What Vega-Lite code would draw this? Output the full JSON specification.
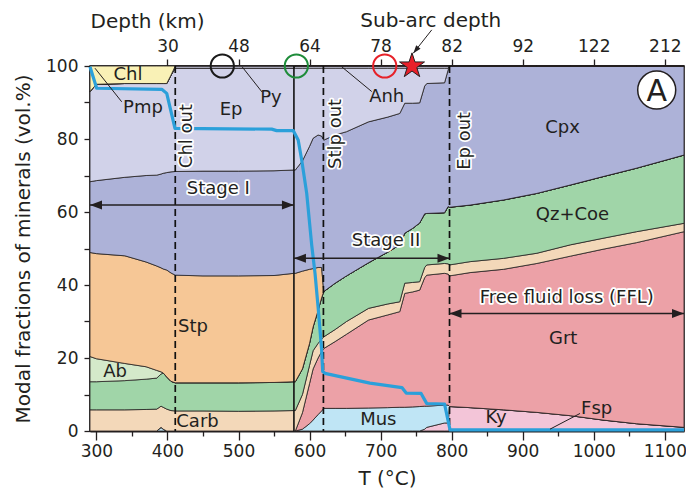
{
  "$schema": "https://vega.github.io/schema/vega-lite/v6.json",
  "width": 594,
  "height": 365,
  "autosize": {"type": "none"},
  "padding": {"left": 90, "top": 66, "right": 2, "bottom": 62},
  "config": {
    "font": "DejaVu Sans",
    "view": {"stroke": "#231f20", "strokeWidth": 1.5},
    "axis": {"domainColor": "#231f20", "tickColor": "#231f20", "labelColor": "#231f20", "titleColor": "#231f20", "labelFont": "DejaVu Sans", "titleFont": "DejaVu Sans", "labelFontSize": 17, "titleFontSize": 20, "titleFontWeight": "normal", "grid": false, "domainWidth": 2, "tickWidth": 1.3}
  },
  "datasets": {
    "rock": [
      {"T":291,"Ky":0,"Mus":0,"Grt":0,"Carb":5.8,"Qz_Coe":7.7,"Ab":6.9,"Stp":28.5,"Cpx":19.4,"Ep":24.7,"Anh":0,"Py":0,"Chl":7},
      {"T":300,"Ky":0,"Mus":0,"Grt":0,"Carb":5.8,"Qz_Coe":7.7,"Ab":6.3,"Stp":28.8,"Cpx":20,"Ep":26.4,"Anh":0,"Py":0,"Chl":5},
      {"T":340,"Ky":0,"Mus":0,"Grt":0,"Carb":5.8,"Qz_Coe":8,"Ab":4.7,"Stp":29.5,"Cpx":21.5,"Ep":25.7,"Anh":0,"Py":0,"Chl":4.8},
      {"T":370,"Ky":0,"Mus":0,"Grt":0,"Carb":5.9,"Qz_Coe":8.3,"Ab":3.4,"Stp":28.7,"Cpx":23.7,"Ep":25.2,"Anh":0,"Py":0,"Chl":4.8},
      {"T":385,"Ky":0,"Mus":0,"Grt":0,"Carb":6,"Qz_Coe":8.5,"Ab":2.1,"Stp":28.6,"Cpx":24.9,"Ep":25.1,"Anh":0,"Py":0,"Chl":4.8},
      {"T":391,"Ky":0,"Mus":1,"Grt":0,"Carb":5.8,"Qz_Coe":8.8,"Ab":0.6,"Stp":28.5,"Cpx":25.7,"Ep":24.8,"Anh":0,"Py":0,"Chl":4.8},
      {"T":394,"Ky":0,"Mus":0.5,"Grt":0,"Carb":6,"Qz_Coe":9.4,"Ab":0,"Stp":28.5,"Cpx":26.2,"Ep":24.6,"Anh":0,"Py":0,"Chl":4.8},
      {"T":399,"Ky":0,"Mus":0,"Grt":0,"Carb":6,"Qz_Coe":8.8,"Ab":0,"Stp":29.3,"Cpx":26.7,"Ep":24.4,"Anh":0,"Py":0,"Chl":4.8},
      {"T":405,"Ky":0,"Mus":0,"Grt":0,"Carb":5.6,"Qz_Coe":8,"Ab":0,"Stp":29.7,"Cpx":27.7,"Ep":26.5,"Anh":0,"Py":0,"Chl":2.5},
      {"T":411,"Ky":0,"Mus":0,"Grt":0,"Carb":5.5,"Qz_Coe":7.7,"Ab":0,"Stp":29.5,"Cpx":28.4,"Ep":28.3,"Anh":0,"Py":0.6,"Chl":0},
      {"T":450,"Ky":0,"Mus":0,"Grt":0,"Carb":5.5,"Qz_Coe":7.7,"Ab":0,"Stp":29.3,"Cpx":28.7,"Ep":28.2,"Anh":0,"Py":0.6,"Chl":0},
      {"T":500,"Ky":0,"Mus":0,"Grt":0,"Carb":5.4,"Qz_Coe":7.8,"Ab":0,"Stp":29.3,"Cpx":28.7,"Ep":28.2,"Anh":0,"Py":0.6,"Chl":0},
      {"T":550,"Ky":0,"Mus":0,"Grt":0,"Carb":5.5,"Qz_Coe":7.8,"Ab":0,"Stp":29.3,"Cpx":28.7,"Ep":28.1,"Anh":0,"Py":0.6,"Chl":0},
      {"T":578,"Ky":0,"Mus":0,"Grt":0,"Carb":5.6,"Qz_Coe":7.9,"Ab":0,"Stp":29.7,"Cpx":28.3,"Ep":27.9,"Anh":0,"Py":0.6,"Chl":0},
      {"T":580,"Ky":0,"Mus":0,"Grt":0,"Carb":5.6,"Qz_Coe":7.9,"Ab":0,"Stp":29.7,"Cpx":28.3,"Ep":27.9,"Anh":0.6,"Py":0,"Chl":0},
      {"T":590,"Ky":0,"Mus":0.5,"Grt":4.5,"Carb":5,"Qz_Coe":7,"Ab":0,"Stp":26.8,"Cpx":30.2,"Ep":25.4,"Anh":0.6,"Py":0,"Chl":0},
      {"T":600,"Ky":0,"Mus":2,"Grt":11,"Carb":5,"Qz_Coe":6,"Ab":0,"Stp":20.3,"Cpx":33.7,"Ep":21.4,"Anh":0.6,"Py":0,"Chl":0},
      {"T":605,"Ky":0,"Mus":3,"Grt":14,"Carb":5,"Qz_Coe":6.5,"Ab":0,"Stp":16,"Cpx":35.7,"Ep":19.2,"Anh":0.6,"Py":0,"Chl":0},
      {"T":612,"Ky":0,"Mus":4.5,"Grt":15.5,"Carb":4,"Qz_Coe":9,"Ab":0,"Stp":11.8,"Cpx":36.3,"Ep":18.3,"Anh":0.6,"Py":0,"Chl":0},
      {"T":617,"Ky":0,"Mus":5.5,"Grt":16.3,"Carb":3.4,"Qz_Coe":11.3,"Ab":0,"Stp":8.3,"Cpx":36,"Ep":18.6,"Anh":0.6,"Py":0,"Chl":0},
      {"T":620,"Ky":0,"Mus":6.2,"Grt":16.4,"Carb":3.2,"Qz_Coe":12.4,"Ab":0,"Stp":0,"Cpx":41.5,"Ep":19.7,"Anh":0.6,"Py":0,"Chl":0},
      {"T":636,"Ky":0,"Mus":6.2,"Grt":18.3,"Carb":3.3,"Qz_Coe":12.7,"Ab":0,"Stp":0,"Cpx":40.6,"Ep":18.3,"Anh":0.6,"Py":0,"Chl":0},
      {"T":652,"Ky":0,"Mus":6.2,"Grt":20.3,"Carb":3.5,"Qz_Coe":12.5,"Ab":0,"Stp":0,"Cpx":39.5,"Ep":17.4,"Anh":0.6,"Py":0,"Chl":0},
      {"T":683,"Ky":0,"Mus":6.3,"Grt":24.1,"Carb":3.2,"Qz_Coe":12.5,"Ab":0,"Stp":0,"Cpx":38.6,"Ep":14.7,"Anh":0.6,"Py":0,"Chl":0},
      {"T":710,"Ky":0,"Mus":6.4,"Grt":25.4,"Carb":3,"Qz_Coe":14.2,"Ab":0,"Stp":0,"Cpx":37,"Ep":13.4,"Anh":0.6,"Py":0,"Chl":0},
      {"T":727,"Ky":0,"Mus":6.5,"Grt":26.2,"Carb":2.7,"Qz_Coe":15.6,"Ab":0,"Stp":0,"Cpx":36,"Ep":12.4,"Anh":0.6,"Py":0,"Chl":0},
      {"T":734,"Ky":0,"Mus":6.5,"Grt":31.2,"Carb":2.8,"Qz_Coe":13.7,"Ab":0,"Stp":0,"Cpx":35.6,"Ep":9.6,"Anh":0.6,"Py":0,"Chl":0},
      {"T":745,"Ky":0,"Mus":6.6,"Grt":31.5,"Carb":2.6,"Qz_Coe":14.8,"Ab":0,"Stp":0,"Cpx":34.3,"Ep":9.6,"Anh":0.6,"Py":0,"Chl":0},
      {"T":755,"Ky":0,"Mus":6.7,"Grt":31.9,"Carb":2.3,"Qz_Coe":16.1,"Ab":0,"Stp":0,"Cpx":32.9,"Ep":9.5,"Anh":0.6,"Py":0,"Chl":0},
      {"T":762,"Ky":0.5,"Mus":6.3,"Grt":35.2,"Carb":2.8,"Qz_Coe":14.7,"Ab":0,"Stp":0,"Cpx":35,"Ep":4.9,"Anh":0.6,"Py":0,"Chl":0},
      {"T":765,"Ky":1,"Mus":5.8,"Grt":35.9,"Carb":2.8,"Qz_Coe":14.1,"Ab":0,"Stp":0,"Cpx":35.6,"Ep":4.2,"Anh":0.6,"Py":0,"Chl":0},
      {"T":790,"Ky":2.2,"Mus":4.9,"Grt":36.1,"Carb":2.7,"Qz_Coe":13.9,"Ab":0,"Stp":0,"Cpx":35.6,"Ep":4,"Anh":0.6,"Py":0,"Chl":0},
      {"T":795,"Ky":2.2,"Mus":4.9,"Grt":35.9,"Carb":2.8,"Qz_Coe":15.7,"Ab":0,"Stp":0,"Cpx":37.4,"Ep":0.5,"Anh":0.6,"Py":0,"Chl":0},
      {"T":797,"Ky":6.7,"Mus":0,"Grt":35.8,"Carb":3,"Qz_Coe":15.8,"Ab":0,"Stp":0,"Cpx":38.7,"Ep":0,"Anh":0,"Py":0,"Chl":0},
      {"T":826,"Ky":6.4,"Mus":0,"Grt":37,"Carb":3,"Qz_Coe":15.5,"Ab":0,"Stp":0,"Cpx":38.1,"Ep":0,"Anh":0,"Py":0,"Chl":0},
      {"T":873,"Ky":5.8,"Mus":0,"Grt":38.5,"Carb":3,"Qz_Coe":16,"Ab":0,"Stp":0,"Cpx":36.7,"Ep":0,"Anh":0,"Py":0,"Chl":0},
      {"T":920,"Ky":5.1,"Mus":0,"Grt":40.8,"Carb":2.8,"Qz_Coe":16.4,"Ab":0,"Stp":0,"Cpx":34.9,"Ep":0,"Anh":0,"Py":0,"Chl":0},
      {"T":967,"Ky":4.2,"Mus":0,"Grt":43.7,"Carb":3.1,"Qz_Coe":16.4,"Ab":0,"Stp":0,"Cpx":32.6,"Ep":0,"Anh":0,"Py":0,"Chl":0},
      {"T":1013,"Ky":3,"Mus":0,"Grt":46.8,"Carb":3,"Qz_Coe":16.9,"Ab":0,"Stp":0,"Cpx":30.3,"Ep":0,"Anh":0,"Py":0,"Chl":0},
      {"T":1060,"Ky":2,"Mus":0,"Grt":49.6,"Carb":3,"Qz_Coe":17.4,"Ab":0,"Stp":0,"Cpx":28,"Ep":0,"Anh":0,"Py":0,"Chl":0},
      {"T":1127,"Ky":1,"Mus":0,"Grt":53.6,"Carb":2.3,"Qz_Coe":18.7,"Ab":0,"Stp":0,"Cpx":24.4,"Ep":0,"Anh":0,"Py":0,"Chl":0}
    ],
    "rank": [
      {"mineral":"Ky","rank":1},{"mineral":"Mus","rank":2},{"mineral":"Grt","rank":3},{"mineral":"Carb","rank":4},
      {"mineral":"Qz_Coe","rank":5},{"mineral":"Ab","rank":6},{"mineral":"Stp","rank":7},{"mineral":"Cpx","rank":8},
      {"mineral":"Ep","rank":9},{"mineral":"Anh","rank":10},{"mineral":"Py","rank":11},{"mineral":"Chl","rank":12}
    ],
    "fluid": [
      {"T":291,"v":99.8},{"T":300.4,"v":93.9},{"T":392,"v":93.6},{"T":399,"v":92.5},{"T":410.6,"v":82.9},
      {"T":546.7,"v":82.7},{"T":553.7,"v":82.3},{"T":577,"v":82.3},{"T":584,"v":79.7},{"T":589,"v":74.2},
      {"T":596,"v":65.1},{"T":603,"v":51},{"T":607.7,"v":43.2},{"T":612,"v":34},{"T":614.7,"v":27.7},
      {"T":617,"v":22.2},{"T":618.5,"v":16.3},{"T":621.7,"v":15.8},{"T":685,"v":13.1},{"T":730,"v":11.9},
      {"T":736,"v":10.4},{"T":757,"v":10.3},{"T":765,"v":7.5},{"T":790,"v":7.4},{"T":797.7,"v":0.3},{"T":1127,"v":0.3}
    ],
    "spans": [
      {"stage":"Stage I","T1":291,"T2":578,"v":61.9},
      {"stage":"Stage II","T1":578,"T2":797,"v":47.3},
      {"stage":"FFL","T1":797,"T2":1127,"v":32.2}
    ],
    "leaders": [
      {"label":"Pmp","T1":335.6,"v1":90.2,"T2":298,"v2":99.4},
      {"label":"Py","T1":533,"v1":92.9,"T2":505,"v2":99.8},
      {"label":"Anh","T1":687.5,"v1":93,"T2":645.2,"v2":99.8},
      {"label":"Fsp","T1":980.6,"v1":4.8,"T2":938.4,"v2":0.5},
      {"label":"Sub-arc depth","T1":772,"v1":109.9,"T2":746,"v2":103.5}
    ]
  },
  "resolve": {"axis": {"x": "independent", "y": "independent"}},
  "layer": [
    {
      "data": {"name": "rock"},
      "transform": [
        {"fold": ["Ky","Mus","Grt","Carb","Qz_Coe","Ab","Stp","Cpx","Ep","Anh","Py","Chl"], "as": ["mineral","frac"]},
        {"lookup": "mineral", "from": {"data": {"name": "rank"}, "key": "mineral", "fields": ["rank"]}}
      ],
      "mark": {"type": "area", "stroke": "#231f20", "strokeWidth": 0.8, "interpolate": "linear"},
      "encoding": {
        "x": {"field": "T", "type": "quantitative", "scale": {"domain": [291, 1127], "nice": false, "zero": false},
              "axis": {"orient": "bottom", "values": [300,350,400,450,500,550,600,650,700,750,800,850,900,950,1000,1050,1100],
                       "labelExpr": "datum.value % 100 == 0 ? datum.label : ''", "format": "d",
                       "tickSize": {"condition": {"test": "datum.value % 100 == 0", "value": 9}, "value": 5},
                       "labelPadding": 3, "title": "T (°C)", "titleX": 297, "titleY": 53, "titleBaseline": "alphabetic"}},
        "y": {"field": "frac", "type": "quantitative", "stack": "zero", "scale": {"domain": [0, 100], "nice": false},
              "axis": {"orient": "left", "values": [0,10,20,30,40,50,60,70,80,90,100],
                       "labelExpr": "datum.value % 20 == 0 ? datum.label : ''",
                       "tickSize": 6, "labelPadding": 6, "title": "Modal fractions of minerals (vol.%)",
                       "titleX": -61, "titleY": 182.5, "titleBaseline": "alphabetic", "titleAngle": 270}},
        "color": {"field": "mineral", "type": "nominal", "legend": null,
                  "scale": {"domain": ["Ky","Mus","Grt","Carb","Qz_Coe","Ab","Stp","Cpx","Ep","Anh","Py","Chl"],
                            "range": ["#f3c5d8","#bfe5f5","#eca1a7","#f3d8b9","#a0d5a8","#d4e9ca","#f6c796","#adb2d8","#d1d2e9","#d1d2e9","#d1d2e9","#f9f1b6"]}},
        "order": {"field": "rank", "type": "quantitative"}
      }
    },
    {
      "data": {"values": [{"T": 411, "event": "Chl out"}, {"T": 619.5, "event": "Stlp out"}, {"T": 797, "event": "Ep out"}]},
      "mark": {"type": "rule", "strokeDash": [7, 4], "strokeWidth": 1.7, "color": "#111111"},
      "encoding": {"x": {"field": "T", "type": "quantitative", "axis": null}}
    },
    {
      "data": {"values": [{"T": 578, "event": "Stage I end"}]},
      "mark": {"type": "rule", "strokeWidth": 1.6, "color": "#111111"},
      "encoding": {"x": {"field": "T", "type": "quantitative", "axis": null}}
    },
    {
      "data": {"name": "fluid"},
      "mark": {"type": "line", "color": "#2ba0da", "strokeWidth": 3.2, "strokeJoin": "round", "interpolate": "linear"},
      "encoding": {
        "x": {"field": "T", "type": "quantitative",
              "axis": {"orient": "top", "values": [400,500,600,700,800,900,1000,1100],
                       "labelExpr": "datum.value == 400 ? '30' : datum.value == 500 ? '48' : datum.value == 600 ? '64' : datum.value == 700 ? '78' : datum.value == 800 ? '82' : datum.value == 900 ? '92' : datum.value == 1000 ? '122' : '212'",
                       "tickSize": 7, "labelPadding": 4, "title": "Depth (km)", "titleX": 0, "titleY": -39,
                       "titleAlign": "left", "titleBaseline": "alphabetic", "titleAngle": 0}},
        "y": {"field": "v", "type": "quantitative", "axis": null}
      }
    },
    {
      "data": {"name": "spans"},
      "mark": {"type": "rule", "strokeWidth": 1.5, "color": "#231f20"},
      "encoding": {
        "x": {"field": "T1", "type": "quantitative", "axis": null},
        "x2": {"field": "T2"},
        "y": {"field": "v", "type": "quantitative", "axis": null}
      }
    },
    {
      "data": {"name": "spans"},
      "mark": {"type": "point", "shape": "M0,0L2,-0.75L2,0.75Z", "size": 144, "filled": true, "color": "#231f20", "opacity": 1, "strokeWidth": 0},
      "encoding": {
        "x": {"field": "T1", "type": "quantitative", "axis": null},
        "y": {"field": "v", "type": "quantitative", "axis": null}
      }
    },
    {
      "data": {"name": "spans"},
      "mark": {"type": "point", "shape": "M0,0L-2,-0.75L-2,0.75Z", "size": 144, "filled": true, "color": "#231f20", "opacity": 1, "strokeWidth": 0},
      "encoding": {
        "x": {"field": "T2", "type": "quantitative", "axis": null},
        "y": {"field": "v", "type": "quantitative", "axis": null}
      }
    },
    {
      "data": {"name": "leaders"},
      "mark": {"type": "rule", "strokeWidth": 1, "color": "#231f20"},
      "encoding": {
        "x": {"field": "T1", "type": "quantitative", "axis": null},
        "y": {"field": "v1", "type": "quantitative", "axis": null},
        "x2": {"field": "T2"},
        "y2": {"field": "v2"}
      }
    },
    {
      "data": {"values": [{"T": 746, "v": 103.5}]},
      "mark": {"type": "point", "shape": "M0,0L1.814,-1.096L0.734,-1.988Z", "size": 64, "filled": true, "color": "#231f20", "opacity": 1, "strokeWidth": 0},
      "encoding": {
        "x": {"field": "T", "type": "quantitative", "axis": null},
        "y": {"field": "v", "type": "quantitative", "axis": null}
      }
    },
    {
      "data": {"values": [
        {"label":"Chl","T":344.5,"v":97.5},
        {"label":"Pmp","T":365.6,"v":88.6},
        {"label":"Ep","T":489.5,"v":88},
        {"label":"Py","T":545.7,"v":91.2},
        {"label":"Anh","T":708.6,"v":91.6},
        {"label":"Cpx","T":956,"v":83},
        {"label":"Qz+Coe","T":970,"v":59.2},
        {"label":"Grt","T":957,"v":25.3},
        {"label":"Ky","T":862.4,"v":3.6},
        {"label":"Fsp","T":1004,"v":6},
        {"label":"Mus","T":696.8,"v":3},
        {"label":"Carb","T":442.3,"v":2.6},
        {"label":"Ab","T":326.2,"v":16.3},
        {"label":"Stp","T":436,"v":28.6}
      ]},
      "mark": {"type": "text", "fontSize": 18, "color": "#231f20", "align": "center", "baseline": "middle"},
      "encoding": {
        "x": {"field": "T", "type": "quantitative", "axis": null},
        "y": {"field": "v", "type": "quantitative", "axis": null},
        "text": {"field": "label"}
      }
    },
    {
      "data": {"values": [
        {"label":"Stage I","T":471.6,"v":66.2},
        {"label":"Stage II","T":707.6,"v":52},
        {"label":"Free fluid loss (FFL)","T":962,"v":36.4}
      ]},
      "layer": [
        {"mark": {"type": "text", "fontSize": 18, "color": "#ffffff", "stroke": "#ffffff", "strokeWidth": 3.5, "strokeJoin": "round", "align": "center", "baseline": "middle"}},
        {"mark": {"type": "text", "fontSize": 18, "color": "#231f20", "align": "center", "baseline": "middle"}}
      ],
      "encoding": {
        "x": {"field": "T", "type": "quantitative", "axis": null},
        "y": {"field": "v", "type": "quantitative", "axis": null},
        "text": {"field": "label"}
      }
    },
    {
      "data": {"values": [
        {"label":"Chl out","T":428,"v":80.8},
        {"label":"Stlp out","T":637,"v":81.4},
        {"label":"Ep out","T":819,"v":79.5}
      ]},
      "layer": [
        {"mark": {"type": "text", "fontSize": 18, "angle": 270, "color": "#ffffff", "stroke": "#ffffff", "strokeWidth": 3.5, "strokeJoin": "round", "align": "center", "baseline": "middle"}},
        {"mark": {"type": "text", "fontSize": 18, "angle": 270, "color": "#231f20", "align": "center", "baseline": "middle"}}
      ],
      "encoding": {
        "x": {"field": "T", "type": "quantitative", "axis": null},
        "y": {"field": "v", "type": "quantitative", "axis": null},
        "text": {"field": "label"}
      }
    },
    {
      "data": {"values": [{"T":477.2,"v":100,"marker":"m1"},{"T":581.4,"v":100,"marker":"m2"},{"T":705.8,"v":100,"marker":"m3"}]},
      "mark": {"type": "point", "shape": "circle", "size": 540, "strokeWidth": 2, "filled": false, "opacity": 1},
      "encoding": {
        "x": {"field": "T", "type": "quantitative", "axis": null},
        "y": {"field": "v", "type": "quantitative", "axis": null},
        "stroke": {"field": "marker", "type": "nominal", "legend": null,
                   "scale": {"domain": ["m1","m2","m3"], "range": ["#1a1a1a","#1e8c3a","#e62129"]}}
      }
    },
    {
      "data": {"values": [{"T": 744.2, "v": 100, "label": "Sub-arc depth"}]},
      "mark": {"type": "point", "shape": "M0,-1L0.2245,-0.309L0.9511,-0.309L0.3633,0.118L0.5878,0.809L0,0.382L-0.5878,0.809L-0.3633,0.118L-0.9511,-0.309L-0.2245,-0.309Z", "size": 690, "filled": true, "fill": "#e8202a", "stroke": "#231f20", "strokeWidth": 1, "opacity": 1},
      "encoding": {
        "x": {"field": "T", "type": "quantitative", "axis": null},
        "y": {"field": "v", "type": "quantitative", "axis": null}
      }
    },
    {
      "data": {"values": [{"T": 770.5, "v": 110.7, "label": "Sub-arc depth"}]},
      "mark": {"type": "text", "fontSize": 20, "color": "#231f20", "align": "center", "baseline": "alphabetic"},
      "encoding": {
        "x": {"field": "T", "type": "quantitative", "axis": null},
        "y": {"field": "v", "type": "quantitative", "axis": null},
        "text": {"field": "label"}
      }
    },
    {
      "data": {"values": [{"T": 1088.6, "v": 93.4, "label": "A"}]},
      "layer": [
        {"mark": {"type": "point", "shape": "circle", "size": 1444, "filled": true, "fill": "#ffffff", "stroke": "#231f20", "strokeWidth": 1.5, "opacity": 1}},
        {"mark": {"type": "text", "fontSize": 30, "color": "#231f20", "align": "center", "baseline": "middle", "dy": 2}, "encoding": {"text": {"field": "label"}}}
      ],
      "encoding": {
        "x": {"field": "T", "type": "quantitative", "axis": null},
        "y": {"field": "v", "type": "quantitative", "axis": null}
      }
    }
  ]
}
